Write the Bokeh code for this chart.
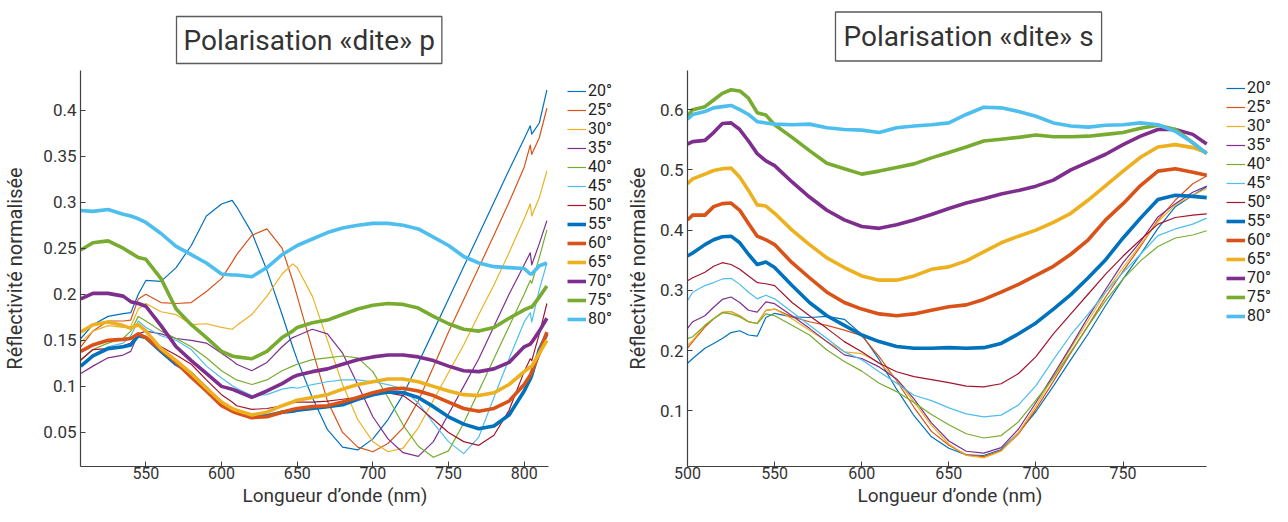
from bokeh.plotting import figure
from bokeh.layouts import row
from bokeh.models import Legend, LegendItem, FixedTicker, Range1d, Title
from bokeh.embed import file_html
from bokeh.resources import INLINE

FONT = "Roboto"

# ---------------- data ----------------
angles = ["20°", "25°", "30°", "35°", "40°", "45°", "50°",
          "55°", "60°", "65°", "70°", "75°", "80°"]

# Polarisation p
xl = [507, 515, 525, 535, 540, 545, 550, 560, 570, 580, 590, 600, 607, 610, 620,
      630, 640, 647, 650, 660, 670, 680, 690, 700, 710, 720, 730, 740, 750, 760,
      770, 780, 790, 800, 804, 805, 810, 815]
p20 = [.152, .167, .176, .179, .180, .200, .215, .214, .229, .253, .285, .298, .302, .295, .267,
       .226, .178, .143, .129, .088, .053, .034, .031, .043, .064, .091, .125, .160, .195, .230,
       .265, .300, .335, .369, .383, .374, .386, .422]
p25 = [.143, .160, .171, .171, .172, .195, .200, .191, .190, .191, .203, .217, .235, .243, .264,
       .271, .250, .215, .198, .140, .084, .050, .034, .029, .038, .055, .084, .121, .159, .194,
       .229, .264, .300, .338, .362, .352, .370, .402]
p30 = [.148, .160, .166, .164, .165, .184, .190, .181, .178, .167, .168, .164, .162, .166, .178,
       .198, .222, .233, .229, .198, .150, .102, .064, .040, .029, .033, .055, .085, .115, .145,
       .178, .210, .245, .282, .298, .285, .305, .334]
p35 = [.114, .122, .131, .134, .138, .157, .160, .157, .152, .150, .147, .136, .128, .124, .117,
       .126, .143, .153, .155, .162, .157, .136, .102, .067, .043, .028, .024, .040, .070, .100,
       .130, .165, .200, .232, .245, .232, .255, .280]
p40 = [.128, .140, .147, .152, .160, .176, .171, .160, .152, .143, .131, .117, .110, .107, .102,
       .107, .117, .122, .124, .129, .131, .133, .131, .116, .088, .058, .035, .023, .030, .060,
       .095, .130, .165, .200, .215, .212, .240, .270]
p45 = [.121, .134, .143, .147, .155, .171, .164, .155, .150, .140, .122, .109, .101, .098, .090,
       .091, .097, .099, .098, .102, .105, .107, .107, .105, .102, .097, .082, .060, .040, .027,
       .045, .088, .130, .170, .180, .170, .205, .234]
p50 = [.129, .140, .141, .144, .147, .157, .153, .143, .134, .124, .107, .091, .083, .079, .075,
       .076, .079, .082, .083, .083, .084, .086, .088, .091, .093, .090, .078, .064, .050, .040,
       .036, .047, .074, .116, .130, .128, .157, .190]
p55 = [.122, .133, .141, .143, .145, .155, .153, .138, .124, .114, .098, .081, .075, .072, .069,
       .068, .072, .073, .074, .076, .078, .080, .086, .091, .094, .093, .088, .078, .067, .059,
       .054, .057, .069, .095, .108, .112, .140, .157]
p60 = [.138, .145, .150, .151, .152, .157, .153, .140, .126, .110, .095, .079, .073, .071, .066,
       .067, .072, .075, .076, .078, .079, .083, .088, .093, .097, .098, .095, .090, .083, .076,
       .073, .076, .084, .102, .112, .116, .136, .159]
p65 = [.159, .167, .170, .166, .163, .167, .160, .141, .128, .114, .098, .083, .076, .074, .069,
       .072, .079, .083, .085, .088, .091, .097, .102, .105, .108, .108, .105, .100, .095, .091,
       .090, .093, .102, .116, .121, .122, .136, .150]
p70 = [.195, .201, .201, .198, .192, .190, .187, .166, .143, .128, .114, .100, .097, .095, .088,
       .095, .103, .110, .112, .116, .119, .124, .129, .132, .134, .134, .132, .128, .122, .117,
       .116, .119, .126, .143, .146, .148, .160, .174]
p75 = [.248, .256, .258, .250, .245, .240, .238, .217, .184, .167, .153, .138, .133, .132, .130,
       .138, .153, .160, .164, .169, .172, .178, .184, .188, .190, .189, .185, .176, .168, .162,
       .160, .164, .174, .183, .186, .186, .197, .209]
p80 = [.291, .290, .292, .287, .285, .282, .278, .266, .252, .243, .234, .222, .221, .221, .219,
       .229, .243, .250, .253, .260, .267, .272, .275, .277, .277, .275, .271, .262, .253, .241,
       .234, .230, .229, .228, .222, .222, .231, .234]

# Polarisation s
xr = [500, 503, 510, 515, 520, 525, 530, 535, 540, 545, 550,
      560, 570, 580, 590, 600, 610, 620, 630, 640,
      650, 660, 670, 680, 690, 700, 710, 720, 730, 740,
      750, 760, 770, 780, 790, 798]
s20 = [.179, .187, .204, .212, .220, .230, .233, .226, .224, .255, .262,
       .256, .255, .257, .252, .227, .185, .136, .092, .057,
       .038, .027, .026, .036, .064, .099, .141, .185, .228, .275,
       .319, .360, .403, .439, .458, .472]
s25 = [.204, .215, .239, .253, .263, .265, .258, .248, .245, .267, .269,
       .256, .248, .242, .234, .225, .190, .150, .106, .066,
       .043, .027, .024, .034, .062, .103, .149, .196, .242, .289,
       .332, .373, .417, .450, .477, .490]
s30 = [.209, .217, .242, .253, .264, .265, .257, .248, .245, .267, .269,
       .253, .234, .215, .198, .195, .180, .152, .115, .076,
       .045, .026, .022, .033, .064, .108, .157, .204, .250, .297,
       .338, .376, .414, .442, .458, .469]
s35 = [.237, .248, .258, .272, .285, .289, .280, .267, .264, .281, .278,
       .258, .237, .215, .193, .187, .173, .153, .120, .080,
       .050, .033, .030, .039, .070, .114, .160, .207, .256, .302,
       .346, .381, .422, .444, .463, .473]
s40 = [.220, .223, .242, .253, .263, .261, .256, .248, .245, .261, .258,
       .242, .226, .201, .182, .166, .146, .132, .114, .094,
       .077, .062, .055, .059, .082, .118, .155, .198, .241, .283,
       .319, .349, .373, .387, .392, .399]
s45 = [.283, .297, .308, .313, .319, .320, .310, .297, .286, .292, .286,
       .264, .242, .220, .198, .185, .165, .146, .126, .117,
       .105, .095, .090, .093, .110, .142, .185, .226, .261, .297,
       .330, .360, .391, .402, .410, .420]
s50 = [.316, .321, .330, .340, .346, .343, .335, .324, .313, .311, .308,
       .280, .258, .237, .215, .198, .179, .165, .157, .152,
       .147, .141, .140, .145, .162, .190, .228, .261, .294, .327,
       .357, .384, .410, .421, .425, .427]
s55 = [.357, .362, .376, .384, .389, .390, .379, .360, .343, .347, .338,
       .308, .280, .258, .242, .226, .215, .207, .204, .204,
       .205, .204, .205, .212, .228, .246, .269, .293, .321, .351,
       .387, .420, .451, .458, .456, .454]
s60 = [.417, .425, .425, .439, .444, .445, .433, .411, .390, .384, .376,
       .346, .321, .297, .280, .269, .261, .258, .261, .267,
       .273, .276, .285, .297, .310, .325, .340, .360, .384, .417,
       .444, .474, .498, .502, .496, .491]
s65 = [.477, .485, .493, .499, .502, .503, .488, .466, .442, .440, .428,
       .400, .376, .354, .338, .324, .317, .317, .324, .335,
       .339, .349, .364, .379, .390, .400, .413, .428, .450, .474,
       .498, .521, .538, .542, .537, .529]
s70 = [.543, .547, .549, .562, .577, .578, .567, .548, .527, .515, .507,
       .480, .455, .433, .417, .406, .403, .409, .417, .426,
       .436, .445, .452, .460, .466, .473, .483, .500, .513, .526,
       .542, .556, .567, .567, .559, .543]
s75 = [.589, .600, .605, .616, .627, .633, .631, .619, .595, .591, .575,
       .554, .532, .511, .502, .493, .498, .504, .510, .520,
       .529, .538, .548, .551, .554, .558, .555, .555, .556, .559,
       .562, .569, .574, .567, .545, .527]
s80 = [.584, .592, .597, .603, .605, .607, .600, .592, .580, .578, .576,
       .575, .576, .570, .567, .566, .562, .570, .573, .575,
       .578, .592, .604, .603, .597, .589, .578, .573, .571, .574,
       .575, .578, .575, .564, .545, .527]

p_series = [p20, p25, p30, p35, p40, p45, p50, p55, p60, p65, p70, p75, p80]
s_series = [s20, s25, s30, s35, s40, s45, s50, s55, s60, s65, s70, s75, s80]

xticks_p = [550, 600, 650, 700, 750, 800]
yticks_p = [0.05, 0.1, 0.15, 0.2, 0.25, 0.3, 0.35, 0.4]
ylabels_p = ["0.05", "0.1", "0.15", "0.2", "0.25", "0.3", "0.35", "0.4"]
xticks_s = [500, 550, 600, 650, 700, 750]
yticks_s = [0.1, 0.2, 0.3, 0.4, 0.5, 0.6]
ylabels_s = ["0.1", "0.2", "0.3", "0.4", "0.5", "0.6"]

title_p = "Polarisation «dite» p"
title_s = "Polarisation «dite» s"
xlabel = "Longueur d’onde (nm)"
ylabel = "Réflectivité normalisée"

# axis extents (data); the view is wider on the right to leave room for the legend
xaxis_p = (506.8, 815.8)
xaxis_s = (500.0, 798.0)

# ---------------- style ----------------
palette = ["#0072BD", "#D95319", "#EDB120", "#7E2F8E", "#77AC30", "#4DBEEE", "#A2142F",
           "#0072BD", "#D95319", "#EDB120", "#7E2F8E", "#77AC30", "#4DBEEE"]
widths = [1.2] * 7 + [3.6] * 6
AX = "#404040"
TXT = "#333333"


def make(title, x, series, axis_x, view_end, yr_, xt, yt, ylabs, size, borders,
         title_standoff, title_pad, title_offset, ylab_standoff, xlab_offset, leg_loc):
    w, h = size
    bl, br, bt, bb = borders
    p = figure(width=w, height=h, output_backend="svg", toolbar_location=None,
               x_range=Range1d(axis_x[0], view_end), y_range=Range1d(*yr_),
               min_border_left=bl, min_border_right=br, min_border_top=bt,
               min_border_bottom=bb)
    p.outline_line_color = None
    p.grid.visible = False
    p.background_fill_color = "white"
    p.border_fill_color = "white"

    renderers = []
    for ys, c, lw in zip(series, palette, widths):
        r = p.line(x, ys, line_color=c, line_width=lw, line_join="round")
        renderers.append(r)

    for ax in (p.xaxis[0], p.yaxis[0]):
        ax.axis_line_color = AX
        ax.axis_line_width = 1.2
        ax.major_tick_line_color = AX
        ax.major_tick_in = 5
        ax.major_tick_out = 0
        ax.minor_tick_line_color = None
        ax.major_label_text_font = FONT
        ax.major_label_text_font_size = "17px"
        ax.major_label_text_color = TXT
        ax.axis_label_text_font = FONT
        ax.axis_label_text_font_size = "20px"
        ax.axis_label_text_font_style = "normal"
        ax.axis_label_text_color = TXT
    p.xaxis.major_label_text_font_size = "16px"
    p.xaxis.bounds = axis_x
    p.xaxis.ticker = FixedTicker(ticks=xt)
    p.yaxis.ticker = FixedTicker(ticks=yt)
    p.yaxis.major_label_overrides = {v: s for v, s in zip(yt, ylabs)}
    p.yaxis.axis_label = ylabel
    p.xaxis.major_label_standoff = 0
    p.yaxis.major_label_standoff = 4
    p.yaxis.axis_label_standoff = ylab_standoff

    # boxed title above the plot
    p.add_layout(Title(text=title, align="left", text_font=FONT, text_font_size="28px",
                       text_font_style="normal", text_color=TXT,
                       border_line_color="#5a5a5a", border_line_width=1.3,
                       background_fill_color="white", padding=title_pad,
                       standoff=title_standoff, offset=title_offset), "above")

    # x-axis title below tick labels
    p.add_layout(Title(text=xlabel, align="left", text_font=FONT, text_font_size="19px",
                       text_font_style="normal", text_color=TXT, standoff=0,
                       offset=xlab_offset), "below")

    items = [LegendItem(label=a, renderers=[r]) for a, r in zip(angles, renderers)]
    leg = Legend(items=items, location=leg_loc, orientation="vertical",
                 border_line_color=None, background_fill_alpha=0,
                 padding=0, margin=0, spacing=0,
                 glyph_width=19, glyph_height=16, label_height=16,
                 label_standoff=2, label_text_font=FONT, label_text_font_size="16px",
                 label_text_color="#222222")
    p.add_layout(leg, "center")
    return p


left = make(title_p, xl, p_series, xaxis_p, 861.0, (0.013, 0.443),
            xticks_p, yticks_p, ylabels_p, (622, 506), (72, 6, 55, 35),
            14, 7, 96, 13, 162, (487, 138))

right = make(title_s, xr, s_series, xaxis_s, 836.9, (0.0077, 0.665),
             xticks_s, yticks_s, ylabels_s, (656, 506), (57, 4, 55, 40),
             19, 8, 148, 7, 170, (539, 141))

layout = row(left, right)
open("out.html", "w").write(file_html(layout, INLINE))
